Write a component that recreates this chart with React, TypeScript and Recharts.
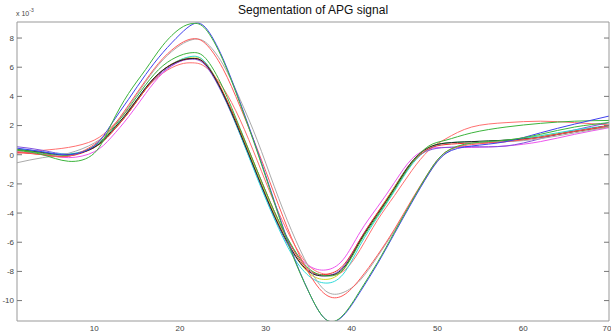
import React from 'react';
import { LineChart, Line, XAxis, YAxis } from 'recharts';

const X = [1, 4, 7, 10, 12, 14, 16, 18, 20, 21.5, 23, 25, 27, 29, 31, 33, 35, 37, 39, 41, 43, 45, 47, 49, 51, 54, 58, 62, 66, 70];

const green1 = [0.3, 0.0, -0.45, 0.1, 2.1, 4.2, 5.85, 7.5, 8.65, 9.0, 8.6, 6.5, 3.5, 0.2, -3.3, -6.7, -9.4, -11.3, -11.0, -9.3, -7.4, -5.3, -3.2, -1.2, 0.2, 0.8, 1.0, 1.4, 1.9, 2.2];
const blue1 = [0.45, 0.2, 0.0, 0.6, 2.1, 3.8, 5.5, 7.0, 8.25, 8.95, 8.7, 6.6, 3.6, 0.3, -3.2, -6.6, -9.4, -11.3, -11.05, -9.4, -7.5, -5.4, -3.3, -1.3, 0.1, 0.6, 0.9, 1.5, 2.1, 2.65];
const red1 = [0.2, 0.0, -0.1, 0.7, 1.8, 3.4, 5.1, 6.6, 7.6, 7.95, 7.6, 5.9, 3.3, 0.4, -2.7, -5.7, -8.1, -9.6, -9.65, -8.5, -6.9, -5.1, -3.1, -1.2, 0.2, 0.7, 0.9, 1.2, 1.6, 2.0];
const gray = [-0.55, -0.2, 0.1, 0.8, 1.8, 3.3, 5.0, 6.5, 7.5, 7.9, 7.7, 6.2, 3.8, 1.0, -2.2, -5.2, -7.7, -9.35, -9.45, -8.6, -7.0, -5.2, -3.2, -1.3, 0.1, 0.8, 0.9, 1.1, 1.5, 1.9];
const green2 = [0.35, 0.1, -0.05, 0.6, 1.7, 3.2, 4.8, 6.1, 6.8, 7.0, 6.6, 4.6, 1.8, -1.1, -3.9, -6.2, -7.8, -8.3, -7.9, -6.0, -4.2, -2.4, -0.6, 0.6, 1.0, 1.5, 1.9, 2.15, 2.3, 2.35];
const cyan = [0.4, 0.2, 0.05, 0.55, 1.6, 3.0, 4.6, 5.8, 6.5, 6.75, 6.3, 4.2, 1.4, -1.6, -4.4, -6.8, -8.3, -8.8, -8.2, -6.2, -4.3, -2.5, -0.7, 0.4, 0.8, 0.9, 1.0, 1.3, 1.7, 2.0];
const yellow = [0.3, 0.15, 0.0, 0.5, 1.5, 2.9, 4.5, 5.8, 6.5, 6.7, 6.3, 4.3, 1.6, -1.3, -4.1, -6.5, -8.1, -8.55, -7.9, -5.9, -4.0, -2.2, -0.5, 0.5, 0.8, 0.9, 1.0, 1.3, 1.6, 1.9];
const magenta = [0.2, 0.05, -0.2, 0.2, 1.2, 2.6, 4.2, 5.6, 6.4, 6.6, 6.2, 4.2, 1.5, -1.4, -4.1, -6.3, -7.6, -7.9, -7.2, -5.3, -3.6, -1.9, -0.3, 0.4, 0.5, 0.5, 0.6, 0.9, 1.4, 1.85];
const black = [0.35, 0.15, 0.0, 0.5, 1.6, 3.0, 4.6, 5.8, 6.45, 6.6, 6.2, 4.2, 1.5, -1.4, -4.2, -6.5, -8.0, -8.3, -7.8, -5.9, -4.1, -2.3, -0.5, 0.5, 0.8, 0.9, 1.0, 1.2, 1.6, 2.0];
const purple = [0.55, 0.3, 0.05, 0.5, 1.5, 2.9, 4.5, 5.7, 6.4, 6.55, 6.1, 4.1, 1.4, -1.5, -4.3, -6.6, -8.0, -8.3, -7.7, -5.8, -4.0, -2.2, -0.5, 0.3, 0.5, 0.55, 0.6, 1.1, 1.7, 2.2];
const red2 = [0.15, 0.0, -0.1, 0.5, 1.5, 2.9, 4.5, 5.8, 6.45, 6.6, 6.2, 4.3, 1.7, -1.1, -3.9, -6.3, -7.9, -8.2, -7.6, -5.8, -4.0, -2.3, -0.6, 0.4, 0.7, 0.8, 0.9, 1.2, 1.6, 1.9];
const red3 = [0.1, 0.3, 0.5, 1.0, 1.9, 3.1, 4.5, 5.6, 6.2, 6.3, 6.0, 4.6, 2.4, -0.4, -3.3, -5.8, -7.6, -8.2, -8.0, -6.5, -4.5, -2.8, -1.1, 0.3, 1.1, 1.9, 2.2, 2.3, 2.2, 2.05];

const X_TICKS = [10, 20, 30, 40, 50, 60, 70];
const Y_TICKS = [-10, -8, -6, -4, -2, 0, 2, 4, 6, 8];
const X_DOMAIN = [1, 70];
const Y_DOMAIN = [-11.4, 9.1];

const SERIES = [
  { name: 'red3', values: red3, color: '#ff7070' },
  { name: 'magenta', values: magenta, color: '#ee55ee' },
  { name: 'purple', values: purple, color: '#8050dd' },
  { name: 'yellow', values: yellow, color: '#d8d820' },
  { name: 'cyan', values: cyan, color: '#30dada' },
  { name: 'red2', values: red2, color: '#ee3030' },
  { name: 'black', values: black, color: '#222222' },
  { name: 'green2', values: green2, color: '#3cb43c' },
  { name: 'gray', values: gray, color: '#aaaaaa' },
  { name: 'red1', values: red1, color: '#ff5a5a' },
  { name: 'blue1', values: blue1, color: '#4040ee' },
  { name: 'green1', values: green1, color: '#3cb43c' },
];

const FONT = '"Liberation Sans", Arial, sans-serif';
const AX = '#999999';
const noLabel = () => <g />;

export default function App() {
  return (
    <div style={{ position: 'absolute', left: 0, top: 0, width: 611, height: 336, background: '#fff', fontFamily: FONT }}>
      <LineChart width={611} height={336} margin={{ top: 22, right: 2, bottom: 0, left: 0 }}>
        <XAxis xAxisId={0} dataKey="x" type="number" domain={X_DOMAIN} ticks={X_TICKS} allowDataOverflow
          tickSize={0} tickMargin={4} tickLine={false} axisLine={{ stroke: AX }} height={15}
          tick={{ fontSize: 8, fill: '#444', fontFamily: FONT }} />
        <XAxis xAxisId="bm" orientation="bottom" mirror type="number" domain={X_DOMAIN} ticks={X_TICKS} allowDataOverflow
          tick={noLabel} tickSize={5} tickLine={{ stroke: '#777' }} axisLine={false} />
        <XAxis xAxisId="tm" orientation="top" mirror type="number" domain={X_DOMAIN} ticks={X_TICKS} allowDataOverflow
          tick={noLabel} tickSize={5} tickLine={{ stroke: '#777' }} axisLine={{ stroke: AX }} />
        <YAxis yAxisId={0} type="number" domain={Y_DOMAIN} ticks={Y_TICKS} allowDataOverflow width={17}
          tickSize={0} tickMargin={3} tickLine={false} axisLine={{ stroke: AX }}
          tick={{ fontSize: 8, fill: '#444', fontFamily: FONT }} />
        <YAxis yAxisId="lm" orientation="left" mirror type="number" domain={Y_DOMAIN} ticks={Y_TICKS} allowDataOverflow
          tick={noLabel} tickSize={5} tickLine={{ stroke: '#777' }} axisLine={false} />
        <YAxis yAxisId="rm" orientation="right" mirror type="number" domain={Y_DOMAIN} ticks={Y_TICKS} allowDataOverflow
          tick={noLabel} tickSize={5} tickLine={{ stroke: '#777' }} axisLine={{ stroke: AX }} />
        {SERIES.map((s) => (
          <Line key={s.name} data={X.map((x, i) => ({ x, y: s.values[i] }))} dataKey="y" type="natural"
            stroke={s.color} strokeWidth={1} dot={false} isAnimationActive={false} />
        ))}
      </LineChart>
      <div style={{ position: 'absolute', left: 213, top: 4, width: 200, textAlign: 'center', fontSize: 12, lineHeight: '12px', color: '#111', whiteSpace: 'nowrap' }}>
        Segmentation of APG signal
      </div>
      <div style={{ position: 'absolute', left: 16, top: 10, fontSize: 7, lineHeight: '7px', color: '#444', whiteSpace: 'nowrap' }}>
        x 10<sup style={{ fontSize: 5, verticalAlign: 'top', position: 'relative', top: -3 }}>-3</sup>
      </div>
    </div>
  );
}
